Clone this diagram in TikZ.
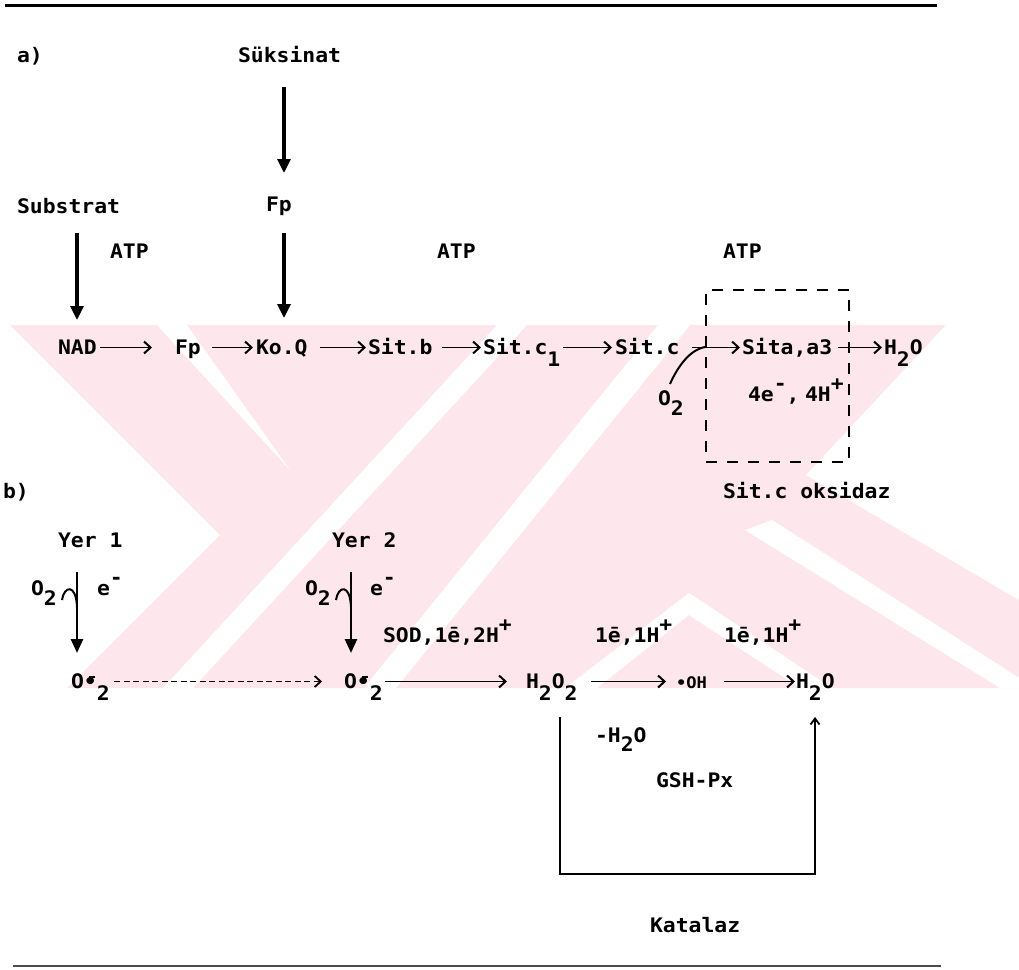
\documentclass[tikz,border=0pt]{standalone}
\usepackage{fontspec}
\usetikzlibrary{arrows.meta}
\newfontfamily\tw{DejaVu Sans Mono}[FakeStretch=1.07]
\definecolor{wm}{RGB}{253,231,236}
\newcommand\dnx[1]{\raisebox{-12pt}{#1}}
\newcommand\upx[1]{\raisebox{11pt}{#1}}
\newcommand\supo{O•\llap{\rule[10pt]{6pt}{1.6pt}\hspace{2pt}}\dnx{2}}
\begin{document}
\begin{tikzpicture}[x=1pt,y=-1pt,
  txt/.style={anchor=base west, inner sep=0pt, outer sep=0pt, text height=13pt, text depth=0pt,
    font={\tw\bfseries\fontsize{20pt}{24pt}\selectfont}},
  ra/.style={line width=1.6pt, -{Straight Barb[length=6.5pt,width=12pt,line width=2pt]}},
  da/.style={line width=1.3pt, dash pattern=on 6pt off 3.5pt, -{Straight Barb[length=6pt,width=11pt,line width=1.8pt]}},
  va/.style={line width=3.2pt, -{Triangle[length=14pt,width=13pt]}},
  ya/.style={line width=2.5pt, -{Triangle[length=14pt,width=12pt]}},
  hook/.style={line width=2pt},
  loopa/.style={line width=2.2pt, -{Straight Barb[length=6pt,width=9pt,line width=1.8pt]}},
  dbox/.style={draw, line width=1.9pt, dash pattern=on 11pt off 10pt, inner sep=0pt}]
\useasboundingbox (0,0) rectangle (1019,969);
% watermark (approximate)
\fill[wm] (10,325) -- (1019,325) -- (1019,688) -- (67,688) -- (220,535) -- cycle;
\fill[white] (157,325) -- (187,325) -- (290,470) -- cycle;
\fill[white] (497,325) -- (527,325) -- (193,688) -- (163,688) -- cycle;
\fill[white] (658,325) -- (690,325) -- (396,688) -- (364,688) -- cycle;
\fill[white] (565,688) -- (689,593) -- (832,688) -- (800,688) -- (689,615) -- (597,688) -- cycle;
\fill[white] (745,530) -- (772,520) -- (1035,688) -- (1000,688) -- cycle;
\fill[white] (946,325) -- (1019,325) -- (1019,600) -- (806,475) -- cycle;
% rules
\draw[line width=3pt] (5,5) -- (937,5);
\draw[line width=1.5pt, black!70] (13,966) -- (941,966);
% part a
\node[txt] (la) at (17,62) {a)};
\node[txt] (suk) at (238,62) {Süksinat};
\node[txt] (subs) at (17,213) {Substrat};
\node[txt] (fp1) at (266,211) {Fp};
\node[txt] (atp1) at (110,258) {ATP};
\node[txt] (atp2) at (437,258) {ATP};
\node[txt] (atp3) at (723,258) {ATP};
\node[txt] (nad) at (58,354) {NAD};
\node[txt] (fp2) at (175,354) {Fp};
\node[txt] (ko) at (256,354) {Ko.Q};
\node[txt] (sitb) at (368,354) {Sit.b};
\node[txt] (sitc1) at (483,354) {Sit.c\dnx{1}};
\node[txt] (sitc) at (615,354) {Sit.c};
\node[txt] (sita) at (742,354) {Sita,a3};
\node[txt] (h2oa) at (884,354) {H\dnx{2}O};
\node[txt] (o2a) at (658,405) {O\raisebox{-10pt}{2}};
\node[txt] (ela) at (748,401) {4e\upx{-},};
\node[txt] (elb) at (805,401) {4H\upx{+}};
\node[dbox, minimum width=143pt, minimum height=172pt] (ox) at (777.5,376) {};
\node[txt] (oks) at (723,498) {Sit.c oksidaz};
\draw[va] ([xshift=46pt,yshift=-31.5pt]suk.west) -- ([xshift=18pt,yshift=31.5pt]fp1.west);
\draw[va] ([xshift=60pt,yshift=-26.5pt]subs.west) -- ([xshift=19pt,yshift=27.5pt]nad.west);
\draw[va] ([xshift=18pt,yshift=-28.5pt]fp1.west) -- ([xshift=28pt,yshift=29.5pt]ko.west);
\draw[ra] ([xshift=42pt]nad.west) -- ([xshift=-23pt]fp2.west);
\draw[ra] ([xshift=37pt]fp2.west) -- ([xshift=-3pt]ko.west);
\draw[ra] ([xshift=64pt]ko.west) -- ([xshift=-2pt]sitb.west);
\draw[ra] ([xshift=74pt]sitb.west) -- ([xshift=-2pt]sitc1.west);
\draw[ra] ([xshift=80pt]sitc1.west) -- ([xshift=-3pt]sitc.west);
\draw[ra] ([xshift=77pt]sitc.west) -- ([xshift=-2pt]sita.west);
\draw[ra] ([xshift=96pt]sita.west) -- ([xshift=-2pt]h2oa.west);
\coordinate (cj) at (705,347);
\draw[hook] ([xshift=12pt,yshift=14.5pt]o2a.west) .. controls (677,368) and (689,350) .. (cj);
% part b
\node[txt] (lb) at (3,498) {b)};
\node[txt] (yer1) at (58,547) {Yer 1};
\node[txt] (yer2) at (332,547) {Yer 2};
\node[txt] (o2b1) at (31,595) {O\raisebox{-10pt}{2}};
\node[txt] (e1) at (97,595) {e\upx{-}};
\node[txt] (o2b2) at (305,595) {O\raisebox{-10pt}{2}};
\node[txt] (e2) at (370,595) {e\upx{-}};
\node[txt] (sod) at (383,642) {SOD,1ē,2H\upx{+}};
\node[txt] (l1) at (595,642) {1ē,1H\upx{+}};
\node[txt] (l2) at (724,642) {1ē,1H\upx{+}};
\node[txt] (o2l) at (71,688) {\supo};
\node[txt] (o2r) at (344,688) {\supo};
\node[txt] (h2o2) at (526,688) {H\dnx{2}O\dnx{2}};
\node[txt, font={\tw\bfseries\fontsize{16pt}{20pt}\selectfont}] (oh) at (676,688) {•OH};
\node[txt] (h2ob) at (796,688) {H\dnx{2}O};
\node[txt] (mh2o) at (595,742) {-H\raisebox{-9pt}{2}O};
\node[txt] (gsh) at (656,787) {GSH-Px};
\node[txt] (kat) at (650,932) {Katalaz};
\draw[ya] ([xshift=19pt,yshift=-31.5pt]yer1.west) -- ([xshift=6pt,yshift=28.5pt]o2l.west);
\draw[ya] ([xshift=19pt,yshift=-31.5pt]yer2.west) -- ([xshift=7pt,yshift=28.5pt]o2r.west);
\coordinate (hk1) at (77,607);
\coordinate (hk2) at (351,607);
\draw[hook] ([xshift=31pt,yshift=-11.5pt]o2b1.west) .. controls (64,586) and (76,583) .. (hk1);
\draw[hook] ([xshift=31pt,yshift=-11.5pt]o2b2.west) .. controls (338,586) and (350,583) .. (hk2);
\draw[da] ([xshift=43pt]o2l.west) -- ([xshift=-22pt]o2r.west);
\draw[ra] ([xshift=41pt]o2r.west) -- ([xshift=-19pt]h2o2.west);
\draw[ra] ([xshift=65pt]h2o2.west) -- ([xshift=-10pt]oh.west);
\draw[ra] ([xshift=48pt]oh.west) -- ([xshift=-1pt]h2ob.west);
\draw[loopa] ([xshift=34pt,yshift=-35.5pt]h2o2.west) -- ++(0,157) -| ([xshift=19pt,yshift=-35.5pt]h2ob.west);
\end{tikzpicture}
\end{document}
